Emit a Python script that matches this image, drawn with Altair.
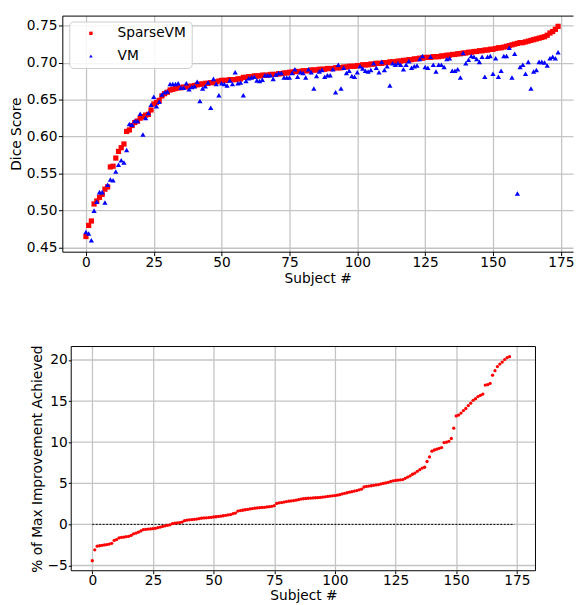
import altair as alt
import pandas as pd

# ---------------- data ----------------
sparse_vm = [
    0.465, 0.480, 0.486, 0.509, 0.513, 0.518, 0.522, 0.529, 0.532, 0.559,
    0.560, 0.571, 0.580, 0.585, 0.590, 0.607, 0.609, 0.615, 0.619, 0.621,
    0.625, 0.627, 0.629, 0.630, 0.636, 0.644, 0.646, 0.649, 0.655, 0.658,
    0.660, 0.663, 0.664, 0.665, 0.666, 0.666, 0.667, 0.667, 0.668, 0.668,
    0.669, 0.670, 0.671, 0.671, 0.672, 0.672, 0.673, 0.673, 0.674, 0.675,
    0.676, 0.676, 0.676, 0.677, 0.677, 0.677, 0.678, 0.678, 0.680, 0.680,
    0.681, 0.681, 0.682, 0.682, 0.682, 0.683, 0.683, 0.683, 0.684, 0.684,
    0.684, 0.685, 0.685, 0.686, 0.686, 0.687, 0.687, 0.688, 0.688, 0.688,
    0.689, 0.689, 0.689, 0.690, 0.690, 0.690, 0.691, 0.691, 0.691, 0.692,
    0.692, 0.692, 0.693, 0.693, 0.693, 0.694, 0.694, 0.695, 0.695, 0.695,
    0.696, 0.696, 0.697, 0.697, 0.697, 0.698, 0.698, 0.699, 0.699, 0.699,
    0.700, 0.700, 0.701, 0.701, 0.701, 0.702, 0.702, 0.703, 0.703, 0.704,
    0.704, 0.705, 0.705, 0.706, 0.706, 0.707, 0.707, 0.707, 0.708, 0.708,
    0.708, 0.709, 0.709, 0.710, 0.710, 0.711, 0.711, 0.712, 0.712, 0.713,
    0.713, 0.714, 0.714, 0.715, 0.715, 0.716, 0.716, 0.717, 0.717, 0.718,
    0.718, 0.719, 0.720, 0.720, 0.721, 0.722, 0.723, 0.724, 0.725, 0.726,
    0.727, 0.727, 0.728, 0.729, 0.730, 0.731, 0.732, 0.733, 0.734, 0.735,
    0.737, 0.740, 0.742, 0.745, 0.749,
]

vm = [
    0.471, 0.469, 0.460, 0.500, 0.512, 0.525, 0.525, 0.511, 0.535, 0.542,
    0.541, 0.553, 0.562, 0.568, 0.565, 0.582, 0.617, 0.616, 0.621, 0.621,
    0.631, 0.603, 0.625, 0.632, 0.643, 0.654, 0.641, 0.647, 0.657, 0.660,
    0.661, 0.671, 0.671, 0.671, 0.672, 0.666, 0.666, 0.672, 0.664, 0.667,
    0.668, 0.674, 0.648, 0.665, 0.668, 0.673, 0.639, 0.678, 0.671, 0.656,
    0.672, 0.671, 0.669, 0.676, 0.671, 0.687, 0.672, 0.673, 0.656, 0.675,
    0.679, 0.680, 0.681, 0.676, 0.675, 0.677, 0.683, 0.683, 0.683, 0.678,
    0.684, 0.686, 0.686, 0.680, 0.680, 0.680, 0.686, 0.691, 0.681, 0.687,
    0.686, 0.680, 0.691, 0.687, 0.665, 0.682, 0.688, 0.690, 0.681, 0.683,
    0.683, 0.691, 0.660, 0.697, 0.665, 0.693, 0.686, 0.689, 0.682, 0.681,
    0.687, 0.695, 0.692, 0.689, 0.688, 0.690, 0.699, 0.693, 0.687, 0.701,
    0.690, 0.695, 0.669, 0.699, 0.697, 0.699, 0.697, 0.691, 0.697, 0.702,
    0.693, 0.695, 0.696, 0.705, 0.709, 0.694, 0.693, 0.708, 0.697, 0.688,
    0.697, 0.697, 0.694, 0.705, 0.706, 0.689, 0.689, 0.691, 0.680, 0.713,
    0.699, 0.704, 0.709, 0.708, 0.705, 0.701, 0.708, 0.681, 0.708, 0.709,
    0.685, 0.706, 0.681, 0.689, 0.709, 0.709, 0.720, 0.680, 0.712, 0.523,
    0.694, 0.697, 0.685, 0.701, 0.665, 0.688, 0.690, 0.701, 0.701, 0.700,
    0.696, 0.706, 0.708, 0.706, 0.714,
]

improvement = [
    -4.42, -3.10, -2.65, -2.60, -2.55, -2.50, -2.45, -2.40, -2.30, -1.95,
    -1.85, -1.65, -1.58, -1.55, -1.50, -1.45, -1.35, -1.15, -1.05, -0.95,
    -0.80, -0.65, -0.60, -0.57, -0.55, -0.52, -0.48, -0.40, -0.32, -0.25,
    -0.18, -0.12, -0.05, 0.08, 0.15, 0.18, 0.22, 0.28, 0.45, 0.52,
    0.55, 0.58, 0.62, 0.65, 0.70, 0.75, 0.78, 0.80, 0.83, 0.86,
    0.90, 0.93, 0.97, 1.00, 1.05, 1.10, 1.15, 1.20, 1.30, 1.38,
    1.62, 1.68, 1.72, 1.78, 1.82, 1.88, 1.92, 1.97, 2.00, 2.03,
    2.06, 2.08, 2.12, 2.16, 2.20, 2.28, 2.55, 2.62, 2.66, 2.72,
    2.78, 2.82, 2.85, 2.90, 2.95, 3.00, 3.08, 3.12, 3.15, 3.18,
    3.20, 3.22, 3.24, 3.26, 3.28, 3.32, 3.36, 3.40, 3.44, 3.47,
    3.50, 3.56, 3.62, 3.70, 3.78, 3.85, 3.92, 3.98, 4.05, 4.12,
    4.20, 4.28, 4.55, 4.62, 4.66, 4.70, 4.75, 4.80, 4.85, 4.92,
    4.98, 5.05, 5.12, 5.22, 5.30, 5.35, 5.38, 5.42, 5.45, 5.60,
    5.75, 5.90, 6.10, 6.25, 6.45, 6.65, 6.85, 6.95, 7.65, 8.20,
    8.90, 9.05, 9.15, 9.25, 9.35, 9.95, 10.00, 10.10, 10.45, 11.70,
    13.20, 13.30, 13.55, 13.85, 14.10, 14.45, 14.75, 15.10, 15.30, 15.55,
    15.70, 15.85, 16.95, 17.00, 17.15, 18.15, 18.70, 19.20, 19.50, 19.75,
    20.05, 20.30, 20.40,
]

series_names = ["SparseVM", "VM"]
series_colors = ["#ff0000", "#0000ff"]
series_shapes = ["square", "triangle-up"]

x_ticks = [0, 25, 50, 75, 100, 125, 150, 175]
dice_ticks = [0.45, 0.50, 0.55, 0.60, 0.65, 0.70, 0.75]
imp_ticks = [-5, 0, 5, 10, 15, 20]

zero_line_x = [0]
zero_line_x2 = [174]
zero_line_y = [0]

# ---------------- tables ----------------
top_df = pd.DataFrame({
    "subject": list(range(len(sparse_vm))) + list(range(len(vm))),
    "dice": sparse_vm + vm,
    "series": [series_names[0]] * len(sparse_vm) + [series_names[1]] * len(vm),
})
imp_df = pd.DataFrame({"subject": list(range(len(improvement))), "imp": improvement})
zero_df = pd.DataFrame({"x": zero_line_x, "x2": zero_line_x2, "y": zero_line_y})
imp_grid_df = pd.DataFrame({"imp": imp_ticks})

FONT = "DejaVu Sans"
FS = 13.9
GRID = "#c4c4c4"
GRID_W = 1.3

# ---------------- top panel ----------------
x_top = alt.Scale(domain=[-8.7, 179.5], nice=False, zero=False)
y_top = alt.Scale(domain=[0.4445, 0.7635], nice=False, zero=False)

legend = alt.Legend(
    title=None, orient="none", legendX=7, legendY=6,
    padding=5, rowPadding=8, symbolSize=12, symbolStrokeWidth=0,
    symbolOffset=10, labelOffset=20, labelFontSize=FS, labelFont=FONT,
    fillColor="rgba(255,255,255,0.85)", strokeColor="#cccccc", cornerRadius=4,
)

pts = alt.Chart(top_df).mark_point(filled=True, opacity=1, strokeWidth=0, size=28).encode(
    x=alt.X("subject:Q", scale=x_top,
            axis=alt.Axis(values=x_ticks, title="Subject #", grid=True,
                          labelPadding=0, titlePadding=2)),
    y=alt.Y("dice:Q", scale=y_top,
            axis=alt.Axis(values=dice_ticks, format=".2f", title="Dice Score",
                          labelPadding=1.5, titlePadding=3)),
    color=alt.Color("series:N", scale=alt.Scale(domain=series_names, range=series_colors), legend=legend),
    shape=alt.Shape("series:N", scale=alt.Scale(domain=series_names, range=series_shapes), legend=legend),
)

top_frame = alt.Chart(top_df).mark_point(opacity=0).encode(
    x=alt.X("subject:Q", scale=x_top,
            axis=alt.Axis(orient="top", labels=False, ticks=False, grid=False, title=None,
                          domain=True, domainColor="black")),
)

top = alt.layer(pts, top_frame).resolve_axis(x="independent").properties(
    width=517, height=239, view=alt.ViewBackground(stroke=None)
)

# ---------------- bottom panel ----------------
# plot group starts at the same left as the top panel; the framed area is inset by 9 px
BX0, BX1 = -8.7, 182.7
BY0, BY1 = -5.64, 21.64
INSET = 9
BW = 470
x_bot = alt.Scale(domain=[BX0 - INSET * (BX1 - BX0) / BW, BX1], nice=False, zero=False)
y_bot = alt.Scale(domain=[BY0, BY1], nice=False, zero=False)

y_axis_bot = alt.Axis(values=imp_ticks, format="d", title="% of Max Improvement Achieved",
                      grid=False, domain=False, offset=-INSET,
                      tickSize=3, labelPadding=1, titlePadding=3)
x_axis_bot = alt.Axis(values=x_ticks, title="Subject #", grid=True, domain=False,
                      tickSize=3, labelPadding=0, titlePadding=1.5,
                      titleX=INSET + BW / 2)

hgrid = alt.Chart(imp_grid_df).mark_rule(color=GRID, strokeWidth=GRID_W).encode(
    y=alt.Y("imp:Q", scale=y_bot, axis=y_axis_bot),
    x=alt.datum(BX0, scale=x_bot), x2=alt.datum(BX1),
)

zero_rule = alt.Chart(zero_df).mark_rule(color="black", strokeDash=[2, 1.5], strokeWidth=1).encode(
    x=alt.X("x:Q", scale=x_bot, axis=x_axis_bot), x2="x2:Q",
    y=alt.Y("y:Q", scale=y_bot, axis=y_axis_bot),
)

dots = alt.Chart(imp_df).mark_circle(color="#ff0000", size=11, opacity=1).encode(
    x=alt.X("subject:Q", scale=x_bot, axis=x_axis_bot),
    y=alt.Y("imp:Q", scale=y_bot, axis=y_axis_bot),
)

frame = alt.Chart(zero_df).mark_rect(fillOpacity=0, stroke="black", strokeWidth=1).encode(
    x=alt.datum(BX0), x2=alt.datum(BX1), y=alt.datum(BY0), y2=alt.datum(BY1)
)

bottom = alt.layer(hgrid, zero_rule, dots, frame).properties(
    width=BW + INSET, height=227, view=alt.ViewBackground(stroke=None)
)

chart = alt.vconcat(top, bottom, spacing=60).properties(
    padding={"left": 1, "top": 4, "right": 0, "bottom": 0}
).configure(font=FONT).configure_axis(
    labelFont=FONT, titleFont=FONT, labelFontSize=FS, titleFontSize=FS,
    titleFontWeight="normal", labelColor="black", titleColor="black",
    domainColor="black", domainWidth=1, tickColor="black", tickSize=4,
    gridColor=GRID, gridWidth=GRID_W, labelFlush=False, labelOverlap=False,
).configure_view(stroke="black")

chart.save("out.html", embed_options={"renderer": "svg", "actions": False})
